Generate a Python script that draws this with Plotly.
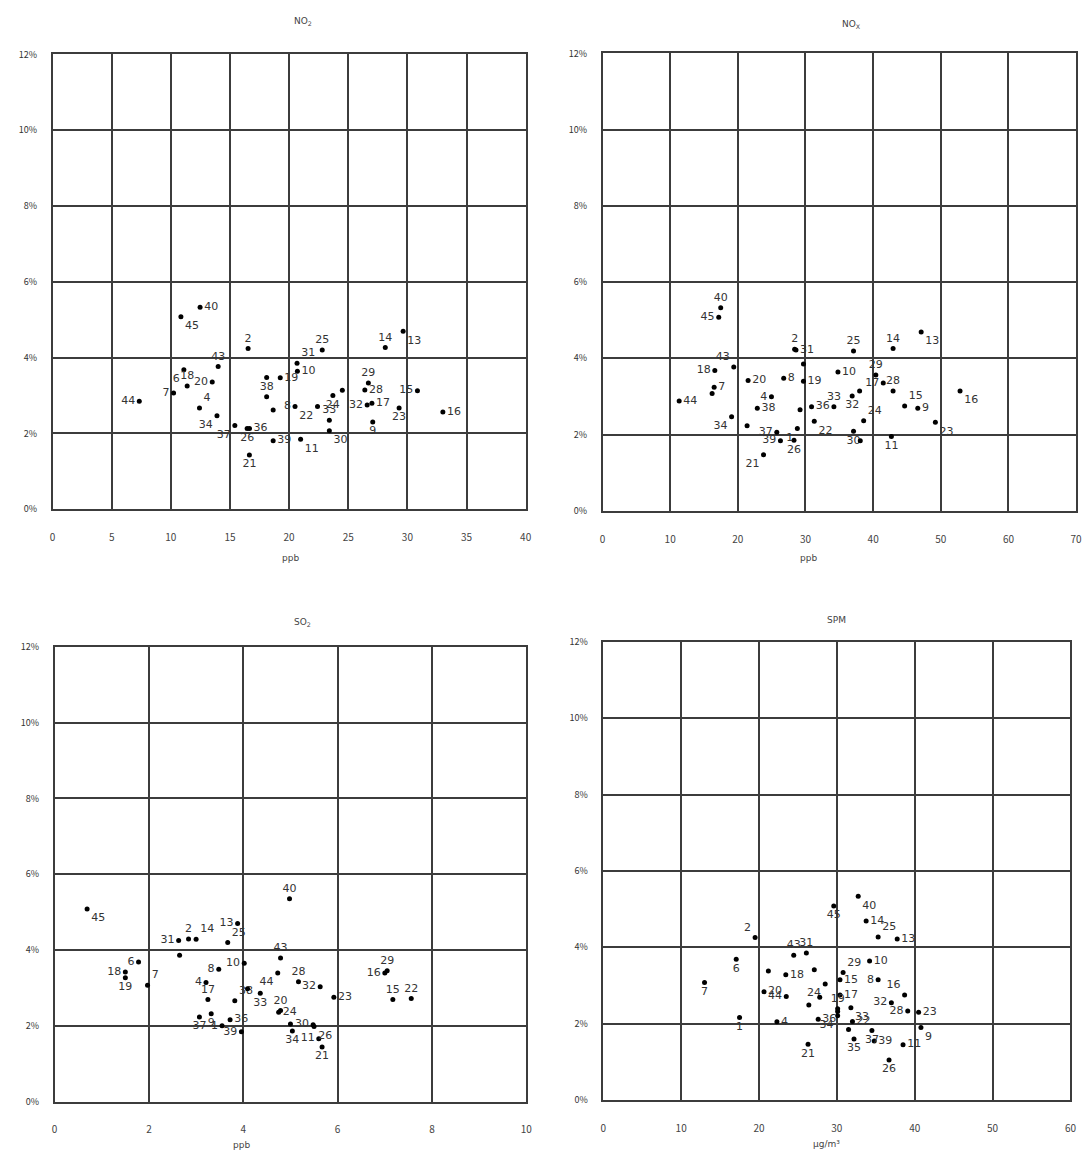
import plotly.graph_objects as go

# ---------------- data ----------------
# NO2 (ppb, %)  -- "" = dot whose number is not legible in the source
no2_site = ["40","45","2","43","6","18","20","7","44","4","34","37","26","36","21","38","","19","8","","39",
            "25","31","10","29","28","24","22","33","30","32","17","9","23","15","16","14","13","11",""]
no2_x = [12.47,10.85,16.53,14.0,11.1,11.38,13.5,10.23,7.33,12.42,13.9,15.41,16.45,16.65,16.64,18.1,18.1,19.25,20.5,18.65,18.65,
         22.8,20.67,20.7,26.7,26.4,23.7,22.4,23.4,23.4,26.6,27.0,27.07,29.3,30.85,33.0,28.13,29.64,20.97,24.5]
no2_y = [5.33,5.08,4.24,3.77,3.68,3.25,3.36,3.07,2.85,2.67,2.47,2.21,2.13,2.13,1.43,2.97,3.48,3.47,2.71,2.62,1.81,
         4.2,3.85,3.64,3.33,3.15,3.0,2.71,2.35,2.07,2.75,2.80,2.30,2.67,3.13,2.57,4.27,4.70,1.85,3.14]
no2_pos = ["middle right","bottom right","top center","top center","bottom left","top center","middle left","middle left",
           "middle left","top right","bottom left","bottom left","bottom center","middle right","bottom center","top center",
           "top center","middle right","middle left","top center","middle right",
           "top center","top right","middle right","top center","middle right","bottom center","bottom left","top center",
           "bottom right","middle left","middle right","bottom center","bottom center","middle left","middle right",
           "top center","bottom right","bottom right","top center"]

# NOx (ppb, %)
nox_site = ["40","45","2","31","25","43","","18","7","","44","34","20","8","19","10","4","38","","37","39","1","",
            "21","26","36","33","32","","24","30","","22","14","13","29","17","28","15","9","16","23","11"]
nox_x = [17.47,17.18,28.4,28.6,37.1,19.4,29.7,16.6,16.5,16.2,11.33,19.08,21.52,26.78,29.7,34.8,24.97,22.88,21.37,25.76,26.3,28.8,29.2,
         23.8,28.3,30.9,34.2,36.9,38.0,38.6,37.1,38.1,31.3,42.95,47.1,40.4,41.5,42.95,44.66,46.6,52.85,49.2,42.7]
nox_y = [5.33,5.08,4.24,4.22,4.19,3.77,3.85,3.68,3.24,3.08,2.88,2.47,3.42,3.48,3.40,3.64,2.99,2.69,2.23,2.06,1.84,2.16,2.65,
         1.47,1.85,2.73,2.73,3.01,3.14,2.36,2.09,1.84,2.35,4.26,4.69,3.56,3.35,3.14,2.75,2.69,3.14,2.32,1.95]
nox_pos = ["top center","middle left","top center","middle right","top center","top left","top center","middle left",
           "middle right","top center","middle right","bottom left","middle right","middle right","middle right","middle right",
           "middle left","middle right","top center","middle left","middle left","bottom left","top center",
           "bottom left","bottom center","middle right","top center","bottom center","top center","top right","bottom center",
           "top center","bottom right","top center","bottom right","top center","middle left","top center","top right",
           "middle right","bottom right","bottom right","bottom center"]

# SO2 (ppb, %)
so2_site = ["45","31","2","14","","13","25","10","6","18","19","7","8","4","17","","38","9","37","36","1","39",
            "44","33","40","43","28","32","20","24","23","","34","30","26","21","11","16","29","15","22"]
so2_x = [0.69,2.63,2.84,3.0,2.65,3.88,3.67,4.02,1.78,1.5,1.5,1.97,3.48,3.21,3.25,4.09,3.82,3.32,3.07,3.72,3.55,3.96,
         4.73,4.36,4.98,4.79,5.17,5.63,4.79,4.75,5.92,5.0,5.04,5.48,5.5,5.67,5.6,7.0,7.05,7.17,7.56]
so2_y = [5.08,4.25,4.29,4.28,3.86,4.70,4.20,3.65,3.68,3.42,3.27,3.07,3.49,3.14,2.69,2.98,2.66,2.32,2.23,2.16,2.0,1.84,
         3.39,2.86,5.35,3.79,3.16,3.03,2.40,2.36,2.75,2.05,1.86,2.03,1.98,1.44,1.66,3.39,3.45,2.69,2.72]
so2_pos = ["bottom right","middle left","top center","top right","top center","middle left","top right","middle left",
           "middle left","middle left","bottom center","top right","middle left","middle left","top center","top center",
           "top right","bottom center","bottom center","middle right","middle left","middle left",
           "bottom left","bottom center","top center","top center","top center","middle left","top center","middle right",
           "middle right","top center","bottom center","middle left","bottom right","bottom center","middle left",
           "middle left","top center","top center","top center"]

# SPM (ug/m3, %)
spm_site = ["40","45","14","25","13","2","43","31","6","7","1","","18","20","44","","24","","","4","19","29","15",
            "8","17","","33","36","34","","22","37","35","21","10","16","32","28","23","9","11","39","26"]
spm_x = [32.74,29.6,33.76,35.3,37.75,19.5,24.46,26.08,17.07,13.0,17.5,21.2,23.44,20.64,23.5,27.1,28.5,27.8,26.4,22.3,30.1,30.8,30.4,
         35.3,30.4,30.1,31.8,27.6,30.1,31.5,32.0,34.5,32.2,26.3,34.2,38.7,37.0,39.1,40.5,40.8,38.5,34.8,36.7]
spm_y = [5.34,5.08,4.69,4.27,4.22,4.26,3.79,3.85,3.69,3.08,2.16,3.38,3.28,2.84,2.71,3.41,3.04,2.69,2.49,2.05,2.39,3.34,3.15,
         3.15,2.75,2.32,2.42,2.12,2.21,1.85,2.06,1.82,1.60,1.46,3.64,2.75,2.55,2.33,2.30,1.90,1.45,1.55,1.05]
spm_pos = ["bottom right","bottom center","middle right","top right","middle right","top left","top center","top center",
           "bottom center","bottom center","bottom center","top center","middle right","middle right","middle left","top center",
           "bottom left","top center","top center","middle right","top center","top right","middle right",
           "middle left","middle right","top center","bottom right","middle right","bottom left","top center","middle right",
           "bottom center","bottom center","bottom center","middle right","top left","middle left","middle left","middle right",
           "bottom right","middle right","middle right","bottom center"]

y_ticks = [0, 2, 4, 6, 8, 10, 12]

# ---------------- figure ----------------
W, H = 1092, 1159
def px(v, total):  # pixel -> paper fraction
    return v / total

panels = [
    ("x", "y", [0, 40], 5, (50, 527), (48, 508), no2_site, no2_x, no2_y, no2_pos),
    ("x2", "y2", [0, 70], 10, (604.5, 1082), (47, 509.5), nox_site, nox_x, nox_y, nox_pos),
    ("x3", "y3", [0, 10], 2, (52, 527.7), (647, 1107), so2_site, so2_x, so2_y, so2_pos),
    ("x4", "y4", [0, 60], 10, (605.3, 1076.3), (642, 1105.5), spm_site, spm_x, spm_y, spm_pos),
]

fig = go.Figure()
layout = dict(width=W, height=H, margin=dict(l=0, r=0, t=0, b=0),
              paper_bgcolor="white", plot_bgcolor="white", showlegend=False)

gridc = "#3c3c3c"
tickfont = dict(family="Noto Sans CJK JP", size=10, color="#444")

for xa, ya, xr, dt, (xl, xrpx), (yt, yb), site, xs, ys, pos in panels:
    lab = [i for i, s in enumerate(site) if s]
    unl = [i for i, s in enumerate(site) if not s]
    fig.add_trace(go.Scatter(
        x=[xs[i] for i in lab], y=[ys[i] for i in lab], mode="markers+text",
        text=[site[i] for i in lab], textposition=[pos[i] for i in lab],
        marker=dict(size=5, color="black"),
        textfont=dict(family="DejaVu Sans", size=11, color="#333"),
        cliponaxis=False, xaxis=xa, yaxis=ya, hoverinfo="skip"))
    fig.add_trace(go.Scatter(
        x=[xs[i] for i in unl], y=[ys[i] for i in unl], mode="markers",
        marker=dict(size=5, color="black"),
        cliponaxis=False, xaxis=xa, yaxis=ya, hoverinfo="skip"))
    xkey = "xaxis" if xa == "x" else "xaxis" + xa[1:]
    ykey = "yaxis" if ya == "y" else "yaxis" + ya[1:]
    layout[xkey] = dict(domain=[px(xl, W), px(xrpx, W)], range=xr, dtick=dt, tick0=0,
                        anchor=ya, showgrid=True, gridcolor=gridc, gridwidth=1.5,
                        showline=True, linecolor=gridc, linewidth=1.5, mirror=True,
                        zeroline=False, ticks="", tickfont=tickfont, ticklabelstandoff=18,
                        fixedrange=True)
    layout[ykey] = dict(domain=[1 - px(yb, H), 1 - px(yt, H)], range=[0, 12],
                        tickvals=y_ticks, ticktext=[f"{v}%" for v in y_ticks],
                        anchor=xa, showgrid=True, gridcolor=gridc, gridwidth=1.5,
                        showline=True, linecolor=gridc, linewidth=1.5, mirror=True,
                        zeroline=False, ticks="", tickfont=dict(family="Noto Sans CJK JP", size=9, color="#333"),
                        ticklabelstandoff=12, fixedrange=True)

fig.update_layout(**layout)

ann_font = dict(family="DejaVu Sans", size=9, color="#444")
annots = [
    ("NO<sub>2</sub>", 302, 15), ("NO<sub>X</sub>", 856, 18),
    ("SO<sub>2</sub>", 302, 622), ("SPM", 840, 620),
    ("ppb", 290, 557), ("ppb", 812, 557), ("ppb", 240, 1151), ("μg/m³", 830, 1150),
]
for txt, ax_, ay_ in annots:
    fig.add_annotation(text=txt, x=px(ax_, W), y=1 - px(ay_, H), xref="paper", yref="paper",
                       showarrow=False, font=ann_font, xanchor="center", yanchor="middle")

fig.write_html("out.html")
